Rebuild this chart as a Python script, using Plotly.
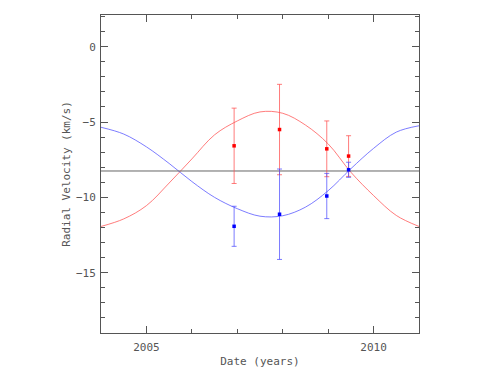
import plotly.graph_objects as go

# Observations
obs_t = [2006.93, 2007.93, 2008.97, 2009.45]
red_v = [-6.58, -5.50, -6.78, -7.26]
red_err = [2.5, 3.0, 1.85, 1.35]
blue_v = [-11.92, -11.12, -9.91, -8.17]
blue_err = [1.33, 3.0, 1.5, 0.5]

# Orbit model curves
curve_t = [2004.0, 2004.5, 2005.0, 2005.5, 2006.0, 2006.5, 2007.0, 2007.5,
           2008.0, 2008.5, 2009.0, 2009.5, 2010.0, 2010.5, 2011.0]
red_curve = [-11.93, -11.43, -10.55, -9.05, -7.45, -5.85, -4.93, -4.33,
             -4.42, -5.20, -6.45, -8.33, -9.88, -11.20, -11.93]
blue_curve = [-5.35, -5.80, -6.65, -7.75, -8.95, -10.00, -10.75, -11.25,
              -11.22, -10.65, -9.56, -8.10, -6.75, -5.67, -5.25]

systemic = -8.25
x_range = [2004, 2011]
y_range = [-19, 2.1]
x_ticks = [2005, 2010]
y_ticks = [0, -5, -10, -15]

RED = "rgba(255,0,0,1)"
RED_L = "rgba(255,80,80,0.75)"
BLUE = "rgba(0,0,255,1)"
BLUE_L = "rgba(80,80,255,0.75)"
AX = "#555555"
FONT = "DejaVu Sans Mono"
TXT = "#555555"

fig = go.Figure()
fig.add_trace(go.Scatter(x=curve_t, y=red_curve, mode="lines", line=dict(color=RED_L, width=1, shape="spline", smoothing=1.0), hoverinfo="skip"))
fig.add_trace(go.Scatter(x=curve_t, y=blue_curve, mode="lines", line=dict(color=BLUE_L, width=1, shape="spline", smoothing=1.0), hoverinfo="skip"))
fig.add_trace(go.Scatter(x=x_range, y=[systemic, systemic], mode="lines", line=dict(color="#666666", width=1), hoverinfo="skip"))
fig.add_trace(go.Scatter(x=obs_t, y=red_v, mode="markers",
                         marker=dict(symbol="square", size=3.5, color=RED),
                         error_y=dict(type="data", array=red_err, color=RED_L, thickness=1, width=2.5)))
fig.add_trace(go.Scatter(x=obs_t, y=blue_v, mode="markers",
                         marker=dict(symbol="square", size=3.5, color=BLUE),
                         error_y=dict(type="data", array=blue_err, color=BLUE_L, thickness=1, width=2.5)))

axis_common = dict(showgrid=False, zeroline=False, showline=True, linecolor=AX, linewidth=1,
                   mirror="allticks", ticks="inside", ticklen=7, tickcolor=AX, tickwidth=1,
                   tickfont=dict(family=FONT, size=11, color=TXT))

fig.update_xaxes(range=x_range, tickvals=x_ticks, ticktext=[str(v) for v in x_ticks],
                 ticklabelstandoff=4,
                 minor=dict(dtick=1, tick0=2004, ticks="inside", ticklen=4, tickcolor=AX, showgrid=False),
                 title=dict(text="Date (years)", font=dict(family=FONT, size=11, color=TXT), standoff=4),
                 **axis_common)
fig.update_yaxes(range=y_range, tickvals=y_ticks, ticktext=["0", "\u22125", "\u221210", "\u221215"],
                 ticklabelstandoff=2,
                 minor=dict(dtick=1, tick0=0, ticks="inside", ticklen=4, tickcolor=AX, showgrid=False),
                 title=dict(text="Radial Velocity (km/s)", font=dict(family=FONT, size=11, color=TXT), standoff=3),
                 **axis_common)

# page body adds an 8px offset; compensate in margins
fig.update_layout(width=498, height=385, margin=dict(l=93, r=87, t=7, b=60),
                  plot_bgcolor="white", paper_bgcolor="white", showlegend=False)

fig.write_html("out.html")
